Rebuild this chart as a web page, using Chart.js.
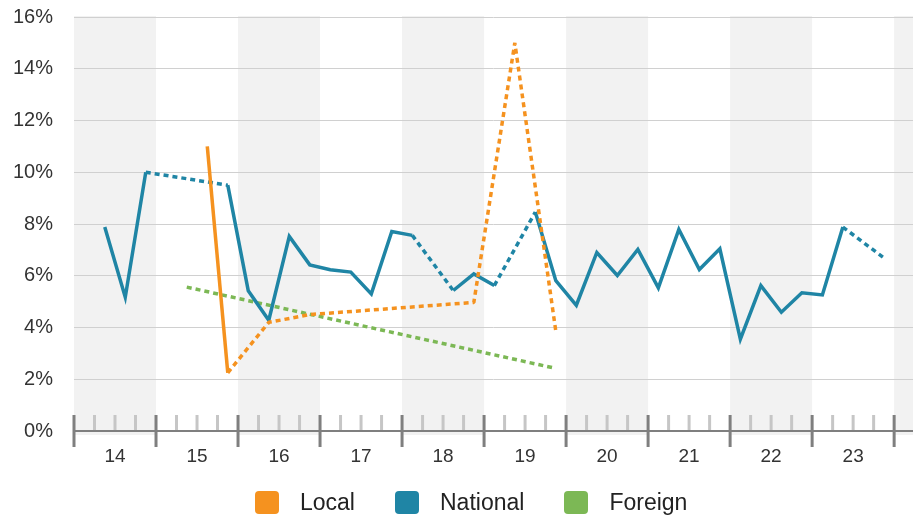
<!DOCTYPE html>
<html>
<head>
<meta charset="utf-8">
<script src="https://cdn.jsdelivr.net/npm/chart.js@4.4.1/dist/chart.umd.min.js"></script>
<style>
  html, body { margin: 0; padding: 0; background: #fff; }
  #wrap { position: relative; width: 913px; height: 517px; overflow: hidden; }
  #chart { position: absolute; left: 0; top: -16px; }
  #legend { position: absolute; left: 255px; top: 489px; display: flex; align-items: center;
            font-family: "Liberation Sans", Arial, sans-serif; font-size: 23px; color: #222; }
  #legend .item { display: flex; align-items: center; margin-right: 40px; }
  #legend .box { width: 24px; height: 23px; border-radius: 4px; margin-right: 21px; }
</style>
</head>
<body>
<div id="wrap">
  <canvas id="chart" width="913" height="533"></canvas>
  <div id="legend"></div>
</div>
<script>
// quarterly values, 2014 Q1 .. 2023 Q4 (null = no value)
var years = [14, 15, 16, 17, 18, 19, 20, 21, 22, 23];
var seriesNames = ['Local', 'National', 'Foreign'];
var seriesColors = ['#f5921f', '#1f85a5', '#7cb855'];

var local = [
  null, null, null, null,
  null, null, 11.0, 2.25,
  null, 4.2, null, 4.5,
  null, null, null, null,
  null, null, null, 4.97,
  null, 15.0, null, 3.85,
  null, null, null, null,
  null, null, null, null,
  null, null, null, null,
  null, null, null, null
];
var national = [
  null, 7.88, 5.17, 10.0,
  null, null, null, 9.5,
  5.42, 4.28, 7.52, 6.42,
  6.23, 6.14, 5.3, 7.71,
  7.56, null, 5.43, 6.07,
  5.62, null, 8.46, 5.81,
  4.86, 6.9, 6.01, 7.02,
  5.53, 7.79, 6.24, 7.04,
  3.55, 5.62, 4.59, 5.34,
  5.26, 7.88, null, 6.69
];
var foreign = [
  null, null, null, null,
  null, 5.56, null, null,
  null, null, null, null,
  null, null, null, null,
  null, null, null, null,
  null, null, null, 2.42,
  null, null, null, null,
  null, null, null, null,
  null, null, null, null,
  null, null, null, null
];

function toPoints(arr) {
  var pts = [];
  arr.forEach(function(v, i) {
    if (v !== null) pts.push({ x: years[0] + (i + 0.5) / 4, y: v });
  });
  return pts;
}

// dashed where the line spans missing quarters
function gapDash(ctx) {
  return ctx.p1.parsed.x - ctx.p0.parsed.x > 0.3 ? [5, 4] : undefined;
}

var xMin = 14, xMax = 24.23;

var bandsPlugin = {
  id: 'bands',
  beforeDraw: function(chart) {
    var c = chart.ctx, x = chart.scales.x, a = chart.chartArea;
    c.save();
    c.fillStyle = '#f2f2f2';
    for (var y = xMin; y < xMax; y += 2) {
      var x0 = x.getPixelForValue(y);
      var x1 = x.getPixelForValue(Math.min(y + 1, xMax));
      c.fillRect(x0, a.top - 1, x1 - x0, a.bottom + 4 - a.top + 1);
    }
    c.restore();
  },
  beforeDatasetsDraw: function(chart) {
    var c = chart.ctx, x = chart.scales.x, a = chart.chartArea;
    var b = a.bottom;
    c.save();
    c.lineWidth = 3;
    // minor quarter ticks
    c.strokeStyle = '#c6c6c6';
    for (var q = xMin; q <= xMax; q += 0.25) {
      if (Math.abs(q - Math.round(q)) < 0.01) continue;
      var px = x.getPixelForValue(q);
      c.beginPath(); c.moveTo(px, b - 16); c.lineTo(px, b); c.stroke();
    }
    // axis line
    c.strokeStyle = '#7f7f7f';
    c.lineWidth = 2;
    c.beginPath(); c.moveTo(a.left, b); c.lineTo(a.right, b); c.stroke();
    // year ticks
    c.lineWidth = 3;
    for (var y = xMin; y <= xMax; y += 1) {
      var px2 = x.getPixelForValue(y);
      c.beginPath(); c.moveTo(px2, b - 16); c.lineTo(px2, b + 16); c.stroke();
    }
    c.restore();
  }
};

Chart.defaults.font.family = '"Liberation Sans", Arial, sans-serif';
Chart.defaults.color = '#333';

var seriesData = [local, national, foreign];
var ctx = document.getElementById('chart').getContext('2d');
var myChart = new Chart(ctx, {
  type: 'line',
  data: {
    datasets: seriesData.map(function(arr, i) {
      return {
        label: seriesNames[i],
        data: toPoints(arr),
        borderColor: seriesColors[i],
        backgroundColor: seriesColors[i],
        borderWidth: 3.5,
        pointRadius: 0,
        pointHoverRadius: 0,
        tension: 0,
        borderJoinStyle: i === 0 ? 'bevel' : 'miter',
        borderCapStyle: 'butt',
        segment: { borderDash: gapDash }
      };
    })
  },
  options: {
    responsive: false,
    animation: false,
    layout: { padding: { top: 2, right: 0, left: 0, bottom: 0 } },
    plugins: { legend: { display: false }, tooltip: { enabled: false } },
    scales: {
      x: {
        type: 'linear',
        min: xMin,
        max: xMax,
        afterBuildTicks: function(scale) {
          scale.ticks = years.map(function(y) { return { value: y + 0.5 }; });
        },
        afterFit: function(scale) { scale.height = 86; },
        ticks: {
          autoSkip: false,
          maxRotation: 0,
          padding: 14,
          font: { size: 19 },
          color: '#333',
          callback: function(v) { return String(Math.round(v - 0.5)); }
        },
        grid: { display: false, drawTicks: false },
        border: { display: false }
      },
      y: {
        min: 0,
        max: 16,
        afterFit: function(scale) { scale.width = 74; },
        ticks: {
          stepSize: 2,
          padding: 21,
          font: { size: 20 },
          color: '#333',
          callback: function(v) { return v + '%'; }
        },
        grid: {
          drawTicks: false,
          color: function(c) { return c.tick && c.tick.value === 0 ? 'rgba(0,0,0,0)' : '#d0d0d0'; },
          lineWidth: 1
        },
        border: { display: false }
      }
    }
  },
  plugins: [bandsPlugin]
});

// legend
var legendEl = document.getElementById('legend');
seriesNames.forEach(function(name, i) {
  var item = document.createElement('div');
  item.className = 'item';
  var box = document.createElement('div');
  box.className = 'box';
  box.style.background = seriesColors[i];
  var txt = document.createElement('span');
  txt.textContent = name;
  item.appendChild(box);
  item.appendChild(txt);
  legendEl.appendChild(item);
});
</script>
</body>
</html>
